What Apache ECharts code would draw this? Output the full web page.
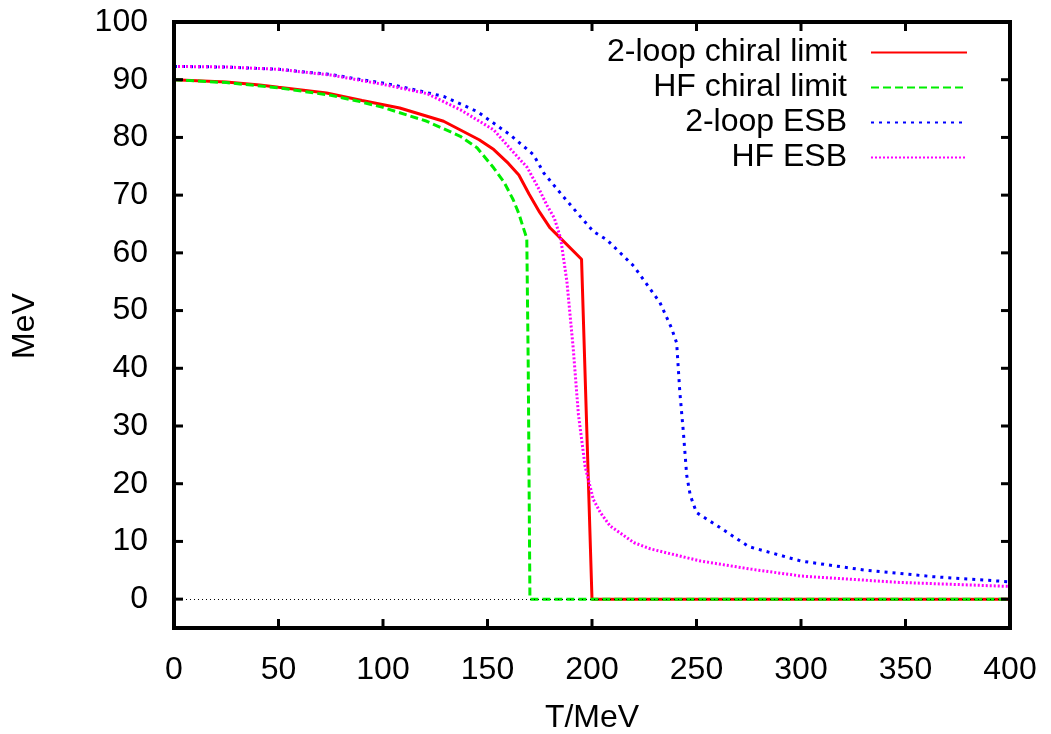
<!DOCTYPE html>
<html>
<head>
<meta charset="utf-8">
<script src="https://cdn.jsdelivr.net/npm/echarts@6/dist/echarts.min.js"></script>
<style>
  html, body { margin: 0; padding: 0; background: #fff; }
  #chart { width: 1051px; height: 734px; }
</style>
</head>
<body>
<div id="chart"></div>
<script>
// curve data: [T (MeV), value (MeV)]
var loop2Chiral = [[0,90],[25,89.6],[41,89.1],[50,88.7],[73,87.7],[90,86.4],[108,85.1],[129,82.8],[146,79.6],[153,77.9],[160,75.5],[165,73.5],[170,70.1],[175,67],[180,64.3],[185,62.5],[195,58.9],[200,0],[300,0],[400,0]];
var hfChiral = [[0,90],[25,89.5],[50,88.6],[75,87.3],[89,86.2],[100,85.2],[121,82.8],[137,80.2],[145,78.2],[153,74.7],[158,72.2],[162.3,69.2],[165,66.8],[167,64.5],[168.8,62.5],[169.5,40],[170.3,0],[300,0],[400,0]];
var loop2ESB = [[0,92.3],[25,92.2],[50,91.8],[75,90.9],[105,89.1],[129,87.1],[145,84.5],[161,80.4],[172,77],[177,73.8],[185,70.3],[193,66.9],[200.6,63.7],[207,62.3],[220,57.7],[232.5,51.4],[238,47],[240.5,44.4],[242,36],[243.7,29],[245.3,21.5],[247,18],[250,15],[260,12.7],[275,9.1],[300,6.6],[331,5.0],[363,3.9],[400,3.0]];
var hfESB = [[0,92.3],[25,92.2],[50,91.8],[75,90.8],[100,89.2],[121,87.6],[137,84.8],[153,81.3],[161,78],[169,74.8],[175,70.8],[178.5,68.2],[182,66],[185,62.5],[188,55],[191,43.5],[193.5,32],[196.7,23],[200.6,17.3],[204,15],[208.6,12.7],[220,9.8],[228,8.7],[252,6.6],[276,5.2],[300,4.0],[347,2.9],[400,2.2]];

var names = ['2-loop chiral limit','HF chiral limit','2-loop ESB','HF ESB'];
var xTicks = [0,50,100,150,200,250,300,350,400];
var yTicks = [0,10,20,30,40,50,60,70,80,90,100];
var xRange = [0,400];
var yRange = [-5,100];
var xTitle = 'T/MeV';
var yTitle = 'MeV';

var myChart = echarts.init(document.getElementById('chart'));
var font = 'Liberation Sans, Arial, sans-serif';
var TICK = 9;

// frame and inward ticks on all four sides, placed through the axes' own scale
function renderFrame(params, api){
	var tl = api.coord([xRange[0], yRange[1]]);
	var br = api.coord([xRange[1], yRange[0]]);
	var lineStyle = {stroke:'#000', lineWidth:3, fill:null};
	var kids = [{
		type:'rect',
		shape:{x:tl[0], y:tl[1], width:br[0]-tl[0], height:br[1]-tl[1]},
		style:{stroke:'#000', lineWidth:4, fill:null}
	}];
	xTicks.forEach(function(v){
		var b = api.coord([v, yRange[0]]);
		var t = api.coord([v, yRange[1]]);
		kids.push({type:'line', shape:{x1:b[0], y1:b[1], x2:b[0], y2:b[1]-TICK}, style:lineStyle});
		kids.push({type:'line', shape:{x1:t[0], y1:t[1], x2:t[0], y2:t[1]+TICK}, style:lineStyle});
	});
	yTicks.forEach(function(v){
		var l = api.coord([xRange[0], v]);
		var r = api.coord([xRange[1], v]);
		kids.push({type:'line', shape:{x1:l[0], y1:l[1], x2:l[0]+TICK, y2:l[1]}, style:lineStyle});
		kids.push({type:'line', shape:{x1:r[0], y1:r[1], x2:r[0]-TICK, y2:r[1]}, style:lineStyle});
	});
	return {type:'group', children:kids};
}

var option = {
	animation:false,
	grid:{left:174, right:41, top:22, bottom:106, outerBoundsMode:'none'},
	legend:{
		data:names,
		orient:'vertical',
		align:'right',
		right:83,
		top:35,
		padding:0,
		itemGap:0,
		itemWidth:96,
		itemHeight:14,
		itemStyle:{opacity:0},
		textStyle:{fontFamily:font, fontSize:32, lineHeight:35, color:'#000', padding:[0,19,0,0]}
	},
	// axis titles as plain text
	graphic:[
		{type:'text', x:592, y:718, z:20, style:{text:xTitle, font:'32px ' + font, fill:'#000', align:'center', verticalAlign:'middle'}},
		{type:'text', x:25, y:326, z:20, rotation:Math.PI/2, style:{text:yTitle, font:'32px ' + font, fill:'#000', align:'center', verticalAlign:'middle'}}
	],
	xAxis:{
		type:'value', min:xRange[0], max:xRange[1], interval:50,
		axisLine:{show:false},
		axisTick:{show:false},
		axisLabel:{fontFamily:font, fontSize:32, color:'#000', margin:26},
		splitLine:{show:false}
	},
	yAxis:{
		type:'value', min:yRange[0], max:yRange[1],
		axisLine:{show:false},
		axisTick:{show:false},
		axisLabel:{fontFamily:font, fontSize:32, color:'#000', margin:26, customValues:yTicks},
		splitLine:{show:false}
	},
	series:[
		{
			name:names[0], type:'line', symbol:'none', data:loop2Chiral,
			lineStyle:{color:'#ff0000', width:3},
			itemStyle:{color:'#ff0000'},
			markLine:{
				silent:true, symbol:'none', label:{show:false},
				lineStyle:{color:'#000', width:1, type:[1,3]},
				data:[{yAxis:0}]
			},
			z:2
		},
		{
			name:names[1], type:'line', symbol:'none', data:hfChiral,
			lineStyle:{color:'#00ee00', width:3, type:[8,4]},
			itemStyle:{color:'#00ee00'},
			z:3
		},
		{
			name:names[2], type:'line', symbol:'none', data:loop2ESB,
			lineStyle:{color:'#0000ff', width:3, type:[3,5]},
			itemStyle:{color:'#0000ff'},
			z:4
		},
		{
			name:names[3], type:'line', symbol:'none', data:hfESB,
			lineStyle:{color:'#ff00ff', width:3, type:[2,2]},
			itemStyle:{color:'#ff00ff'},
			z:5
		},
		{
			name:'frame', type:'custom', renderItem:renderFrame,
			data:[[xRange[0], yRange[0]]],
			clip:false, silent:true, z:10
		}
	]
};
myChart.setOption(option);
</script>
</body>
</html>
